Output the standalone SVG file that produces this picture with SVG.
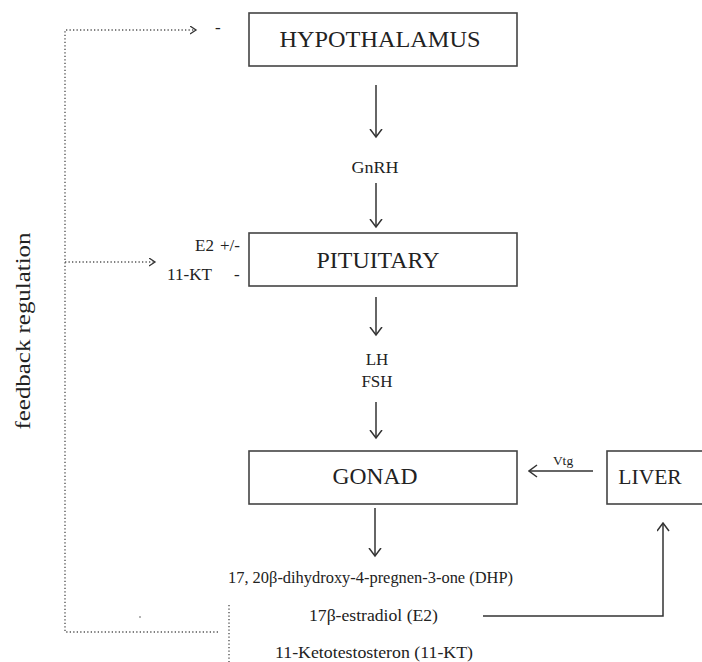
<svg xmlns="http://www.w3.org/2000/svg" width="702" height="662" viewBox="0 0 702 662">
<style>
text{font-family:"Liberation Serif","Times New Roman",serif;fill:#222}
.box{fill:#fff;stroke:#444;stroke-width:1.6}
.big{font-size:23.5px;text-anchor:middle}
.sm{font-size:17px}
.mid{text-anchor:middle}
.con{fill:none;stroke:#333;stroke-width:1.5}
.dot{fill:none;stroke:#555;stroke-width:1.4;stroke-dasharray:1.3 2.2}
</style>
<defs>
<marker id="ah" markerUnits="userSpaceOnUse" viewBox="0 0 10 15" refX="8.5" refY="6.5" markerWidth="10" markerHeight="15" orient="auto">
<path d="M0.5,0.5 L8.5,6.5 L0.5,12.5" fill="none" stroke="#333" stroke-width="1.5"/>
</marker>
<marker id="ahd" markerUnits="userSpaceOnUse" viewBox="0 0 8 10" refX="6.5" refY="4.5" markerWidth="8" markerHeight="10" orient="auto">
<path d="M0.5,0.5 L6.5,4.5 L0.5,8.5" fill="none" stroke="#333" stroke-width="1.3"/>
</marker>
</defs>

<g id="connectors">
<line class="con" x1="376" y1="85" x2="376" y2="137" marker-end="url(#ah)"/>
<line class="con" x1="376" y1="183" x2="376" y2="227" marker-end="url(#ah)"/>
<line class="con" x1="376" y1="297" x2="376" y2="335" marker-end="url(#ah)"/>
<line class="con" x1="376" y1="402" x2="376" y2="438" marker-end="url(#ah)"/>
<line class="con" x1="375" y1="508" x2="375" y2="556" marker-end="url(#ah)"/>
<line class="con" x1="593" y1="471" x2="529" y2="471" marker-end="url(#ah)"/>
<polyline class="con" points="483,616 663,616 663,523" marker-end="url(#ah)"/>
<polyline class="dot" points="218,632 65,632 65,30 196,30" marker-end="url(#ahd)"/>
<line class="dot" x1="65" y1="262" x2="155" y2="262" marker-end="url(#ahd)"/>
<line class="dot" x1="229" y1="605" x2="229" y2="662"/>
<circle cx="140" cy="617" r="0.8" fill="#555"/>
</g>

<g id="hypothalamus">
<rect class="box" x="249" y="13" width="268" height="53"/>
<text class="big" x="380" y="47" textLength="201" lengthAdjust="spacingAndGlyphs">HYPOTHALAMUS</text>
</g>

<g id="pituitary">
<rect class="box" x="249" y="233" width="268" height="53"/>
<text class="big" x="378" y="268" textLength="123" lengthAdjust="spacingAndGlyphs">PITUITARY</text>
</g>

<g id="gonad">
<rect class="box" x="249" y="451" width="268" height="53"/>
<text class="big" x="375" y="484" textLength="85" lengthAdjust="spacingAndGlyphs">GONAD</text>
</g>

<g id="liver">
<rect class="box" x="607" y="451" width="110" height="53"/>
<text class="big" x="650" y="484" style="font-size:21.5px">LIVER</text>
</g>

<g id="labels">
<text class="sm" x="215" y="33">-</text>
<text class="sm mid" x="375" y="173" textLength="47" lengthAdjust="spacingAndGlyphs">GnRH</text>
<text class="sm" x="195" y="251">E2</text>
<text class="sm" x="220" y="251">+/-</text>
<text class="sm" x="167" y="280" textLength="45" lengthAdjust="spacingAndGlyphs">11-KT</text>
<text class="sm" x="234" y="280">-</text>
<text class="sm mid" x="377" y="365">LH</text>
<text class="sm mid" x="377" y="387">FSH</text>
<text class="mid" x="563" y="465" style="font-size:13.5px">Vtg</text>
<text class="sm" x="228" y="583" textLength="285" lengthAdjust="spacingAndGlyphs">17, 20β-dihydroxy-4-pregnen-3-one (DHP)</text>
<text class="sm" x="309" y="621" textLength="129" lengthAdjust="spacingAndGlyphs">17β-estradiol (E2)</text>
<text class="sm" x="275" y="658" textLength="198" lengthAdjust="spacingAndGlyphs">11-Ketotestosteron (11-KT)</text>
<text class="mid" transform="translate(30,331) rotate(-90)" style="font-size:22px" textLength="197" lengthAdjust="spacingAndGlyphs">feedback regulation</text>
</g>
</svg>
